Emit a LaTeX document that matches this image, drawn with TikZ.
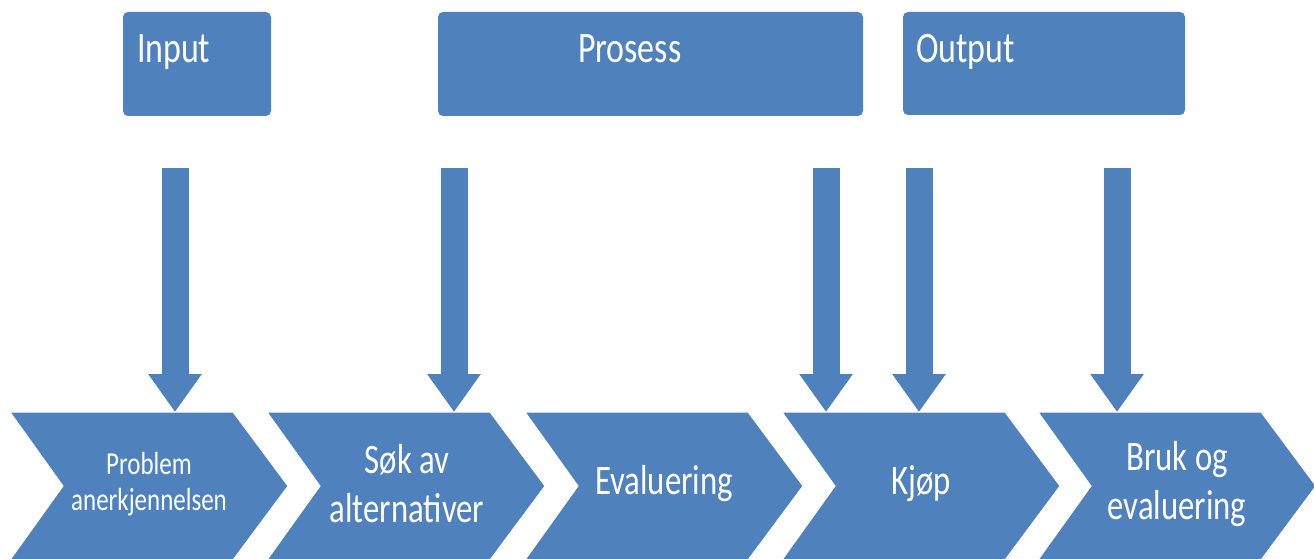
\documentclass[tikz,border=0pt]{standalone}
\usepackage{fontspec}
\setmainfont[FakeStretch=0.78]{Carlito}
\usetikzlibrary{arrows.meta}
\definecolor{officeblue}{HTML}{4F81BD}

\tikzset{
  headbox/.style={fill=officeblue, rounded corners=5pt, inner sep=0pt},
  headtext/.style={text=white, inner sep=0pt, anchor=base west,
    font=\fontsize{43.5}{50}\selectfont},
  chevron/.style={fill=officeblue, draw=white, line width=1pt},
  steplabel/.style={text=white, inner sep=0pt, align=center,
    font=\fontsize{42}{49}\selectfont},
  smalllabel/.style={text=white, inner sep=0pt, align=center,
    font=\fontsize{32}{36}\selectfont},
  blockarrow/.style={draw=officeblue, line width=27pt,
    -{Triangle[width=51pt,length=38pt,fill=officeblue]}}
}

\begin{document}
\begin{tikzpicture}[x=1pt,y=-1pt]
\useasboundingbox (0,0) rectangle (1314,559);

% header boxes
\node[headbox, minimum width=148pt, minimum height=104pt] (input)   at (197,64)   {};
\node[headbox, minimum width=425pt, minimum height=104pt] (prosess) at (650.5,64) {};
\node[headbox, minimum width=282pt, minimum height=103pt] (output)  at (1044,63.5) {};

\node[headtext] (tinput)   at ([shift={(14,51)}]input.north west)   {Input};
\node[headtext] (tprosess) at ([shift={(140,51)}]prosess.north west) {Prosess};
\node[headtext] (toutput)  at ([shift={(13,51)}]output.north west)  {Output};

% start points of the block arrows
\coordinate (s1) at (175,168);
\coordinate (s2) at (454,168);
\coordinate (s3) at (826,168);
\coordinate (s4) at (919,168);
\coordinate (s5) at (1117,168);

% chevron row
\foreach \L/\n in {10/1,267/2,525/3,782/4,1038/5}{
  \coordinate (top\n) at (\L+139,412);
}
\draw[blockarrow] (s1) -- (s1 |- top1);
\draw[blockarrow] (s2) -- (s2 |- top2);
\draw[blockarrow] (s3) -- (s3 |- top4);
\draw[blockarrow] (s4) -- (s4 |- top4);
\draw[blockarrow] (s5) -- (s5 |- top5);

\foreach \L in {10,267,525,782,1038}{
  \filldraw[chevron] (\L,412) -- ++(223,0) -- ++(55,74) -- ++(-55,74)
    -- ++(-223,0) -- ++(53,-74) -- cycle;
}

\node[smalllabel] (l1) at (149,484) {Problem\\anerkjennelsen};
\node[steplabel]  (l2) at (407,484) {Søk av\\alternativer};
\node[steplabel]  (l3) at (664,484) {Evaluering};
\node[steplabel]  (l4) at (921,484) {Kjøp};
\node[steplabel]  (l5) at (1177,484) {Bruk og\\evaluering};
\end{tikzpicture}
\end{document}
